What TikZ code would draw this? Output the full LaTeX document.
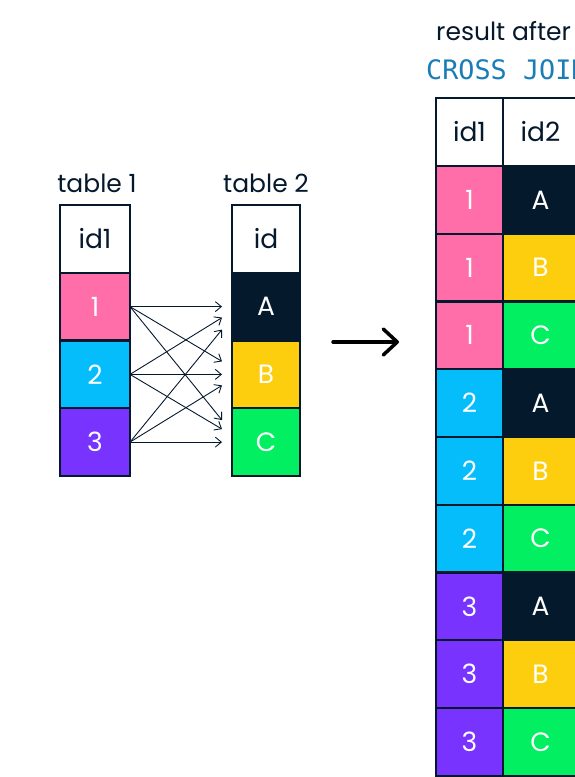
\documentclass[tikz,border=0pt]{standalone}
\usepackage{fontspec}
\setmainfont{Poppins}
\setmonofont{DejaVu Sans Mono}
\usetikzlibrary{arrows.meta}

\definecolor{dcnavy}{HTML}{05192D}
\definecolor{dcpink}{HTML}{FF6EA9}
\definecolor{dcblue}{HTML}{06BDFC}
\definecolor{dcpurple}{HTML}{7933FF}
\definecolor{dcyellow}{HTML}{FCCE0D}
\definecolor{dcgreen}{HTML}{03EF62}
\definecolor{joinblue}{HTML}{1A7DB8}

\tikzset{
  cell/.style={draw=dcnavy, line width=2pt, outer sep=0pt, inner sep=0pt,
    minimum width=70pt, minimum height=67.75pt, text=white,
    font=\fontsize{26.5pt}{30pt}\selectfont},
  headcell/.style={cell, fill=white, text=dcnavy},
  label/.style={text=dcnavy, inner sep=0pt, font=\fontsize{25pt}{30pt}\selectfont},
  smallarrow/.style={line width=0.9pt, dcnavy, -{Straight Barb[length=6pt,width=10pt]}},
  bigarrow/.style={line width=3.5pt, black, line cap=round,
    -{Straight Barb[length=14pt,width=26pt,line cap=round,line join=round]}}
}

\begin{document}
\begin{tikzpicture}[x=1pt, y=-1pt]
 \useasboundingbox (0,0) rectangle (575,777);

 % table 1
 \node[label] (t1lab) at (97,183) {table 1};
 \node[headcell] (t1h) at (95,238.9) {id1};
 \node[cell, fill=dcpink] (t1r1) at (95,306.6) {1};
 \node[cell, fill=dcblue] (t1r2) at (95,374.4) {2};
 \node[cell, fill=dcpurple] (t1r3) at (95,442.1) {3};

 % table 2
 \node[label] (t2lab) at (266,183) {table 2};
 \node[headcell, minimum width=68pt] (t2h) at (266,238.9) {id};
 \node[cell, fill=dcnavy, minimum width=68pt] (t2r1) at (266,306.6) {A};
 \node[cell, fill=dcyellow, minimum width=68pt] (t2r2) at (266,374.4) {B};
 \node[cell, fill=dcgreen, minimum width=68pt] (t2r3) at (266,442.1) {C};

 % every row of table 1 to every row of table 2
 \draw[smallarrow] (t1r1.east) -- ([shift={(-10,0)}]t2r1.west);
 \draw[smallarrow] (t1r1.east) -- ([shift={(-10,-13)}]t2r2.west);
 \draw[smallarrow] (t1r1.east) -- ([shift={(-10,-22)}]t2r3.west);
 \draw[smallarrow] (t1r2.east) -- ([shift={(-10,11)}]t2r1.west);
 \draw[smallarrow] (t1r2.east) -- ([shift={(-10,0)}]t2r2.west);
 \draw[smallarrow] (t1r2.east) -- ([shift={(-10,-13)}]t2r3.west);
 \draw[smallarrow] (t1r3.east) -- ([shift={(-10,23)}]t2r1.west);
 \draw[smallarrow] (t1r3.east) -- ([shift={(-10,11)}]t2r2.west);
 \draw[smallarrow] (t1r3.east) -- ([shift={(-10,0)}]t2r3.west);

 % big arrow
 \coordinate (arrS) at (333,342);
 \coordinate (arrE) at (399,342);
 \draw[bigarrow] (arrS) -- (arrE);

 % result table
 \node[label, anchor=base west] (reslab) at (436,40) {result after};
 \node[label, anchor=base west, text=joinblue, font=\ttfamily\fontsize{26.8pt}{30pt}\selectfont] (joinlab) at (426,79) {CROSS JOIN};

 \node[headcell, minimum width=67pt, minimum height=68pt] (rh1) at (469.5,132) {id1};
 \node[headcell, minimum width=75pt, minimum height=68pt] (rh2) at (540.5,132) {id2};

 \node[cell, fill=dcpink, minimum width=67pt] (r11) at (469.5,199.9) {1};
 \node[cell, fill=dcnavy, minimum width=75pt] (r12) at (540.5,199.9) {A};
 \node[cell, fill=dcpink, minimum width=67pt] (r21) at (469.5,267.6) {1};
 \node[cell, fill=dcyellow, minimum width=75pt] (r22) at (540.5,267.6) {B};
 \node[cell, fill=dcpink, minimum width=67pt] (r31) at (469.5,335.4) {1};
 \node[cell, fill=dcgreen, minimum width=75pt] (r32) at (540.5,335.4) {C};

 \node[cell, fill=dcblue, minimum width=67pt] (r41) at (469.5,403.1) {2};
 \node[cell, fill=dcnavy, minimum width=75pt] (r42) at (540.5,403.1) {A};
 \node[cell, fill=dcblue, minimum width=67pt] (r51) at (469.5,470.9) {2};
 \node[cell, fill=dcyellow, minimum width=75pt] (r52) at (540.5,470.9) {B};
 \node[cell, fill=dcblue, minimum width=67pt] (r61) at (469.5,538.6) {2};
 \node[cell, fill=dcgreen, minimum width=75pt] (r62) at (540.5,538.6) {C};

 \node[cell, fill=dcpurple, minimum width=67pt] (r71) at (469.5,606.4) {3};
 \node[cell, fill=dcnavy, minimum width=75pt] (r72) at (540.5,606.4) {A};
 \node[cell, fill=dcpurple, minimum width=67pt] (r81) at (469.5,674.1) {3};
 \node[cell, fill=dcyellow, minimum width=75pt] (r82) at (540.5,674.1) {B};
 \node[cell, fill=dcpurple, minimum width=67pt] (r91) at (469.5,741.9) {3};
 \node[cell, fill=dcgreen, minimum width=75pt] (r92) at (540.5,741.9) {C};
\end{tikzpicture}
\end{document}
